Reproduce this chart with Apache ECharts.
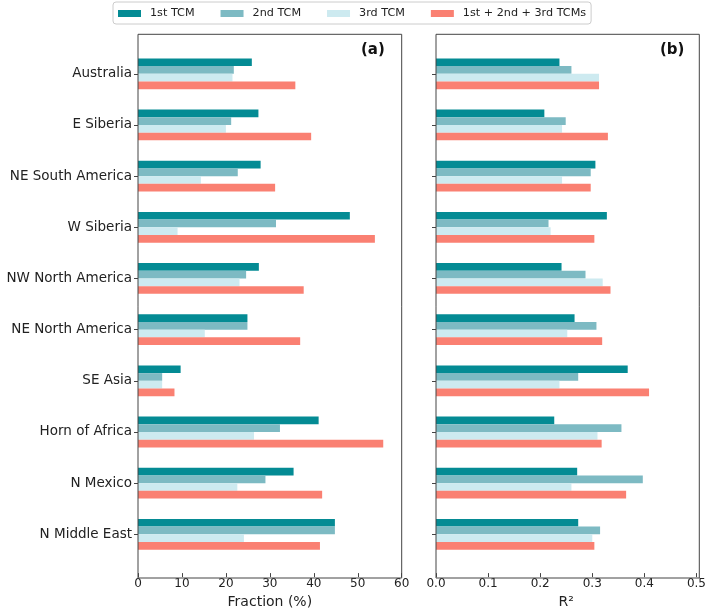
<!DOCTYPE html>
<html>
<head>
<meta charset="utf-8">
<script src="https://cdn.jsdelivr.net/npm/echarts@6/dist/echarts.min.js"></script>
<style>
  html, body { margin: 0; padding: 0; background: #fff; }
  #main { width: 709px; height: 614px; }
</style>
</head>
<body>
<div id="main"></div>
<script>
// regions, top to bottom
const regions = ["Australia", "E Siberia", "NE South America", "W Siberia", "NW North America",
  "NE North America", "SE Asia", "Horn of Africa", "N Mexico", "N Middle East"];
const seriesNames = ["1st TCM", "2nd TCM", "3rd TCM", "1st + 2nd + 3rd TCMs"];
const colors = ["#048b94", "#7dbac3", "#cdeaf0", "#fa8072"];

// (a) fraction (%)
const frac1 = [25.9, 27.4, 27.9, 48.2, 27.5, 24.9, 9.7, 41.1, 35.4, 44.8];
const frac2 = [21.8, 21.2, 22.7, 31.4, 24.6, 24.9, 5.5, 32.3, 29.0, 44.8];
const frac3 = [21.5, 20.0, 14.3, 9.0, 23.1, 15.2, 5.5, 26.4, 22.6, 24.1];
const fracAll = [35.8, 39.4, 31.2, 53.9, 37.7, 36.9, 8.3, 55.8, 41.9, 41.4];

// (b) R2
const r2_1 = [0.237, 0.208, 0.306, 0.328, 0.241, 0.266, 0.368, 0.227, 0.271, 0.273];
const r2_2 = [0.260, 0.249, 0.297, 0.216, 0.287, 0.308, 0.273, 0.356, 0.397, 0.315];
const r2_3 = [0.313, 0.242, 0.242, 0.220, 0.320, 0.252, 0.237, 0.310, 0.260, 0.300];
const r2_All = [0.313, 0.330, 0.297, 0.304, 0.335, 0.319, 0.409, 0.318, 0.365, 0.304];

const fracData = [frac1, frac2, frac3, fracAll];
const r2Data = [r2_1, r2_2, r2_3, r2_All];

const font = "DejaVu Sans";
const frameColor = "#444";

const chart = echarts.init(document.getElementById("main"));

function makeSeries(data, axisIdx) {
  return data.map((vals, i) => ({
    name: seriesNames[i],
    type: "bar",
    xAxisIndex: axisIdx,
    yAxisIndex: axisIdx,
    barWidth: 7.7,
    barGap: "0%",
    itemStyle: { color: colors[i] },
    data: vals,
  }));
}

function xAx(gridIdx, max, interval, name, fmt) {
  return {
    gridIndex: gridIdx,
    type: "value",
    min: 0,
    max: max,
    interval: interval,
    offset: 13.2,
    name: name,
    nameLocation: "middle",
    nameGap: 21,
    nameTextStyle: { fontFamily: font, fontSize: 14, color: "#222" },
    axisLine: { show: false },
    axisTick: { show: true, length: 4, lineStyle: { color: frameColor } },
    axisLabel: { fontFamily: font, fontSize: 12, color: "#222", margin: 5, formatter: fmt },
    splitLine: { show: false },
  };
}

function yAx(gridIdx, showLabels) {
  return {
    gridIndex: gridIdx,
    type: "category",
    inverse: true,
    data: regions,
    axisLine: { show: false },
    axisTick: { show: true, alignWithLabel: true, length: 4, lineStyle: { color: frameColor } },
    axisLabel: { show: showLabels, fontFamily: font, fontSize: 13.5, color: "#222", margin: 6 },
  };
}

const option = {
  animation: false,
  backgroundColor: "#fff",
  legend: {
    data: seriesNames,
    left: 113,
    top: 2,
    padding: [6, 5, 5, 5],
    itemWidth: 23,
    itemHeight: 7,
    itemGap: 26,
    borderColor: "#ccc",
    borderWidth: 1,
    borderRadius: 3,
    icon: "rect",
    textStyle: { fontFamily: font, fontSize: 11.2, color: "#222", padding: [0, 0, 0, 4] },
  },
  title: [
    { text: "(a)", left: 361, top: 43, padding: 0,
      textStyle: { fontFamily: font, fontSize: 15, fontWeight: "bold", color: "#111" } },
    { text: "(b)", left: 660, top: 43, padding: 0,
      textStyle: { fontFamily: font, fontSize: 15, fontWeight: "bold", color: "#111" } },
  ],
  grid: [
    { left: 138, right: 307.3, top: 48.2, bottom: 49.2 },
    { left: 436, right: 9.7, top: 48.2, bottom: 49.2 },
  ],
  xAxis: [
    xAx(0, 60, 10, "Fraction (%)", (v) => String(v)),
    xAx(1, 0.5, 0.1, "R²", (v) => v.toFixed(1)),
  ],
  yAxis: [yAx(0, true), yAx(1, false)],
  series: makeSeries(fracData, 0).concat(makeSeries(r2Data, 1)),
  graphic: [
    { type: "rect", shape: { x: 138, y: 34.3, width: 263.7, height: 543.7 },
      style: { fill: "none", stroke: frameColor, lineWidth: 1 }, z: 10 },
    { type: "rect", shape: { x: 436, y: 34.3, width: 263.3, height: 543.7 },
      style: { fill: "none", stroke: frameColor, lineWidth: 1 }, z: 10 },
  ],
};

chart.setOption(option);
</script>
</body>
</html>
